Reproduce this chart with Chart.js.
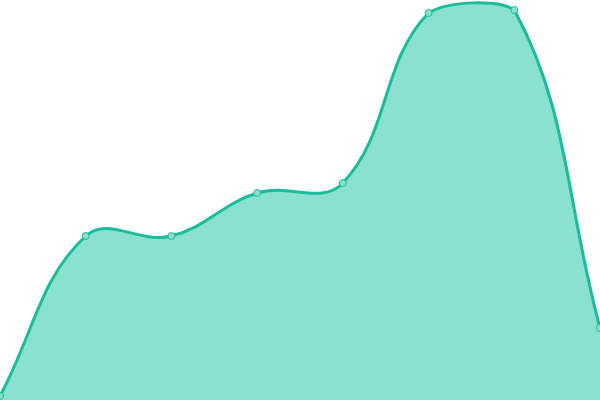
<!DOCTYPE html>
<html>
<head>
<meta charset="utf-8">
<script src="https://cdn.jsdelivr.net/npm/chart.js@4/dist/chart.umd.min.js"></script>
<style>
  html, body { margin: 0; padding: 0; background: #fff; }
  #wrap { width: 600px; height: 400px; }
</style>
</head>
<body>
<div id="wrap"><canvas id="areaChart" width="600" height="400"></canvas></div>
<script>
const labels = ['Jan', 'Feb', 'Mar', 'Apr', 'May', 'Jun', 'Jul', 'Aug'];
const values = [4, 164, 164, 207, 217, 387, 390, 72];
const yMin = 0;
const yMax = 400;

const ctx = document.getElementById('areaChart').getContext('2d');
new Chart(ctx, {
    type: 'line',
    data: {
        labels: labels,
        datasets: [{
            data: values,
            fill: true,
            tension: 0.4,
            borderColor: '#1abc9c',
            borderWidth: 3,
            backgroundColor: 'rgba(22, 196, 160, 0.5)',
            pointRadius: 3.5,
            pointBorderWidth: 1,
            pointBorderColor: '#1abc9c',
            pointBackgroundColor: '#8ae0cf'
        }]
    },
    options: {
        responsive: false,
        animation: false,
        layout: { padding: 0, autoPadding: false },
        scales: {
            x: { display: false },
            y: { display: false, min: yMin, max: yMax }
        },
        plugins: {
            legend: { display: false },
            tooltip: { enabled: false }
        }
    }
});
</script>
</body>
</html>
